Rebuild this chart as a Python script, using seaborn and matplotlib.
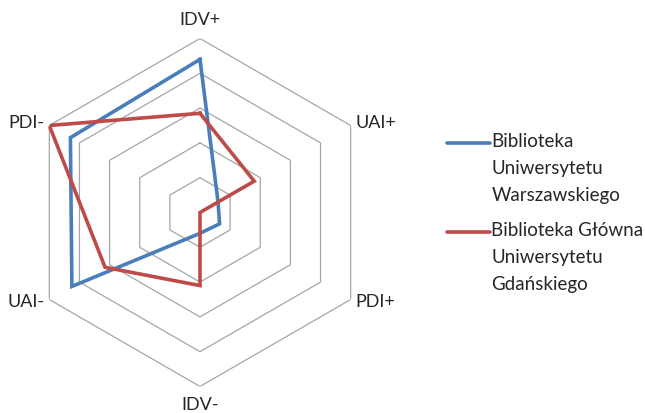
"""
Radar chart: Hofstede dimensions for two university libraries.
"""

import numpy as np
import pandas as pd
import matplotlib
matplotlib.use("Agg")
import matplotlib.pyplot as plt
from matplotlib.lines import Line2D
import seaborn as sns

# Data (scale 0-5)
categories = ["IDV+", "UAI+", "PDI+", "IDV-", "UAI-", "PDI-"]
series_names = [
    "Biblioteka\nUniwersytetu\nWarszawskiego",
    "Biblioteka Główna\nUniwersytetu\nGdańskiego",
]
warszawa = [4.4, 0.6, 0.65, 0.6, 4.25, 4.3]
gdansk = [2.85, 1.8, 0.0, 2.1, 3.15, 5.0]
ring_levels = [1, 2, 3, 4, 5]
colors = ["#4A7EBB", "#BE4B48"]

sns.set_theme(style="white")
plt.rcParams["font.family"] = ["Lato", "DejaVu Sans"]

angles = np.linspace(0, 2 * np.pi, len(categories), endpoint=False)
angles_closed = np.append(angles, angles[0])

# long-form table, polygon closed by repeating the first point
rows = []
for name, values in zip(series_names, [warszawa, gdansk]):
    vals = list(values) + [values[0]]
    for t, v in zip(angles_closed, vals):
        rows.append({"series": name, "theta": t, "value": v})
df = pd.DataFrame(rows)

fig = plt.figure(figsize=(6.45, 4.13), dpi=100)
ax = fig.add_axes([0.0403, 0.0642, 0.5395, 0.8426], projection="polar")
ax.set_theta_offset(np.pi / 2)
ax.set_theta_direction(-1)

# hexagonal grid rings
for r in ring_levels:
    ax.plot(angles_closed, [r] * len(angles_closed), color="#A6A6A6",
            linewidth=0.9, zorder=1)

sns.lineplot(data=df, x="theta", y="value", hue="series", sort=False,
             estimator=None, palette=colors, linewidth=2.6, ax=ax,
             legend=False, zorder=3)
for line in ax.get_lines()[len(ring_levels):]:
    line.set_solid_joinstyle("miter")
    line.set_solid_capstyle("projecting")

ax.set_ylim(0, 5)
ax.grid(False)
ax.spines["polar"].set_visible(False)
ax.set_xticks([])
ax.set_yticks([])
ax.set_xlabel("")
ax.set_ylabel("")

# category labels
label_r = 5.17
for t, cat in zip(angles, categories):
    deg = np.degrees(t) % 360
    if deg == 0:
        ax.text(t, 5.52, cat, ha="center", va="center", fontsize=13)
    elif deg == 180:
        ax.text(t, 5.52, cat, ha="center", va="center", fontsize=13)
    elif deg < 180:
        ax.text(t, label_r, cat, ha="left", va="center", fontsize=13)
    else:
        ax.text(t, label_r, cat, ha="right", va="center", fontsize=13)

# legend (handle aligned with first line of each label)
legend_tops = [0.654, 0.438]
for name, color, y in zip(series_names, colors, legend_tops):
    fig.add_artist(Line2D([0.693, 0.760], [y, y], color=color, linewidth=2.6,
                          transform=fig.transFigure))
    fig.text(0.762, y + 0.024, name, ha="left", va="top", fontsize=13.5,
             linespacing=1.72, transform=fig.transFigure)

plt.savefig("out.png", dpi=100)
plt.close()
